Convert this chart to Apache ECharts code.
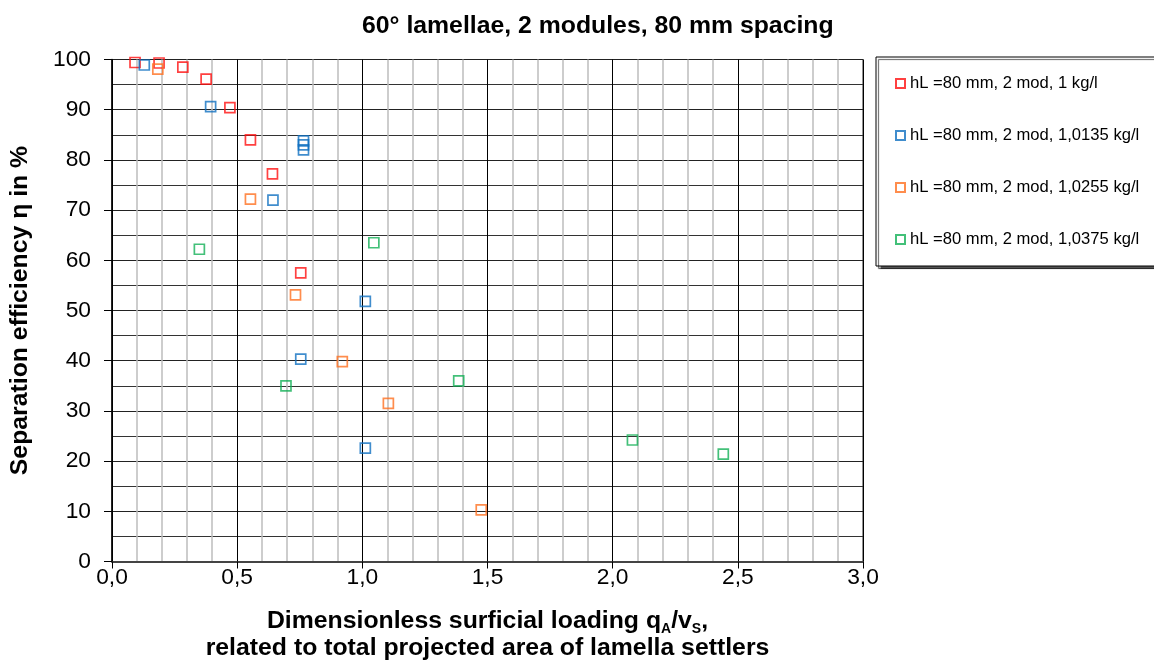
<!DOCTYPE html>
<html>
<head>
<meta charset="utf-8">
<script src="https://cdn.jsdelivr.net/npm/echarts@6.0.0/dist/echarts.min.js"></script>
<style>
* { margin: 0; padding: 0; }
body { background: #fff; }
</style>
</head>
<body>
<div id="main" style="width:1154px;height:669px;background:white;"></div>
<script>
// values
var seriesNames = [
  "hL =80 mm, 2 mod, 1 kg/l",
  "hL =80 mm, 2 mod, 1,0135 kg/l",
  "hL =80 mm, 2 mod, 1,0255 kg/l",
  "hL =80 mm, 2 mod, 1,0375 kg/l"
];
var redX = [0.092, 0.188, 0.283, 0.376, 0.471, 0.553, 0.641, 0.754];
var redY = [99.4, 99.3, 98.5, 96.1, 90.4, 84.0, 77.2, 57.5];
var blueX = [0.129, 0.394, 0.765, 0.765, 0.765, 0.643, 1.012, 0.754, 1.012];
var blueY = [98.9, 90.6, 83.8, 83.0, 82.0, 72.0, 51.8, 40.3, 22.6];
var orangeX = [0.183, 0.553, 0.733, 0.920, 1.104, 1.475];
var orangeY = [98.1, 72.2, 53.1, 39.8, 31.5, 10.3];
var greenX = [0.349, 1.046, 0.695, 1.385, 2.079, 2.442];
var greenY = [62.2, 63.5, 35.0, 36.0, 24.2, 21.4];
var xTickLabels = ["0,0", "0,5", "1,0", "1,5", "2,0", "2,5", "3,0"];
var yTickLabels = ["0", "10", "20", "30", "40", "50", "60", "70", "80", "90", "100"];
var colors = ["#ff1010", "#1070c0", "#ff7020", "#14b058"];

function pairs(xs, ys) {
  var out = [];
  for (var i = 0; i < xs.length; i++) out.push([xs[i], ys[i]]);
  return out;
}
var allData = [pairs(redX, redY), pairs(blueX, blueY), pairs(orangeX, orangeY), pairs(greenX, greenY)];

var font = "Liberation Sans, Arial, sans-serif";
var chart = echarts.init(document.getElementById("main"));

var series = [];
for (var s = 0; s < 4; s++) {
  series.push({
    name: seriesNames[s],
    type: "scatter",
    symbol: "rect",
    symbolSize: 10,
    data: allData[s],
    itemStyle: {
      color: "rgba(255,255,255,0)",
      borderColor: colors[s],
      borderWidth: 1.7
    }
  });
}

chart.setOption({
  animation: false,
  title: {
    text: "60° lamellae, 2 modules, 80 mm spacing",
    left: 362,
    top: 14,
    padding: 0,
    textStyle: { fontFamily: font, fontWeight: "bold", fontSize: 24.8, color: "#000" }
  },
  legend: {
    orient: "vertical",
    left: 876,
    top: 57,
    padding: [18, 30, 18, 19],
    itemGap: 35,
    itemWidth: 9,
    itemHeight: 9,
    backgroundColor: "#fff",
    borderColor: "#000",
    borderWidth: 1,
    borderRadius: 0,
    shadowColor: "rgba(0,0,0,0.65)",
    shadowOffsetX: 2.5,
    shadowOffsetY: 2.5,
    shadowBlur: 1,
    textStyle: { fontFamily: font, fontSize: 16.6, color: "#000" },
    data: seriesNames
  },
  grid: {
    left: 112,
    top: 59.5,
    right: 291,
    bottom: 107.5,
    show: true,
    borderColor: "#222",
    borderWidth: 1,
    containLabel: false
  },
  xAxis: {
    type: "value",
    min: 0,
    max: 3,
    interval: 0.5,
    name: "{b|Dimensionless surficial loading q}{s|A}{b|/v}{s|S}{b|,}\n{b|related to total projected area of lamella settlers}",
    nameLocation: "middle",
    nameGap: 45,
    nameTextStyle: {
      fontFamily: font,
      rich: {
        b: { fontFamily: font, fontWeight: "bold", fontSize: 24.8, color: "#000", lineHeight: 27, verticalAlign: "bottom" },
        s: { fontFamily: font, fontWeight: "bold", fontSize: 14, color: "#000", lineHeight: 27, verticalAlign: "bottom", padding: [0, 0, -3, 0] }
      }
    },
    axisLine: { onZero: false, lineStyle: { color: "#444", width: 2 } },
    axisTick: { show: true, inside: false, length: 7, lineStyle: { color: "#000" } },
    axisLabel: {
      fontFamily: font,
      fontSize: 22.8,
      color: "#000",
      margin: 5,
      formatter: function (v) { return xTickLabels[Math.round(v / 0.5)]; }
    },
    splitLine: { show: true, lineStyle: { color: "#000", width: 1 } },
    minorTick: { show: false, splitNumber: 5 },
    minorSplitLine: { show: true, lineStyle: { color: "#bdbdbd", width: 1.5 } }
  },
  yAxis: {
    type: "value",
    min: 0,
    max: 100,
    interval: 10,
    name: "Separation efficiency η in %",
    nameLocation: "middle",
    nameGap: 79,
    nameTextStyle: { fontFamily: font, fontWeight: "bold", fontSize: 24.8, color: "#000" },
    axisLine: { show: true, lineStyle: { color: "#000", width: 1.5 } },
    axisTick: { show: true, inside: false, length: 8, lineStyle: { color: "#000" } },
    axisLabel: {
      fontFamily: font,
      fontSize: 22.8,
      color: "#000",
      margin: 21,
      formatter: function (v) { return yTickLabels[Math.round(v / 10)]; }
    },
    splitLine: { show: true, lineStyle: { color: "#222", width: 1 } },
    minorTick: { show: false, splitNumber: 2 },
    minorSplitLine: { show: true, lineStyle: { color: "#333", width: 1 } }
  },
  series: series
});
</script>
</body>
</html>
